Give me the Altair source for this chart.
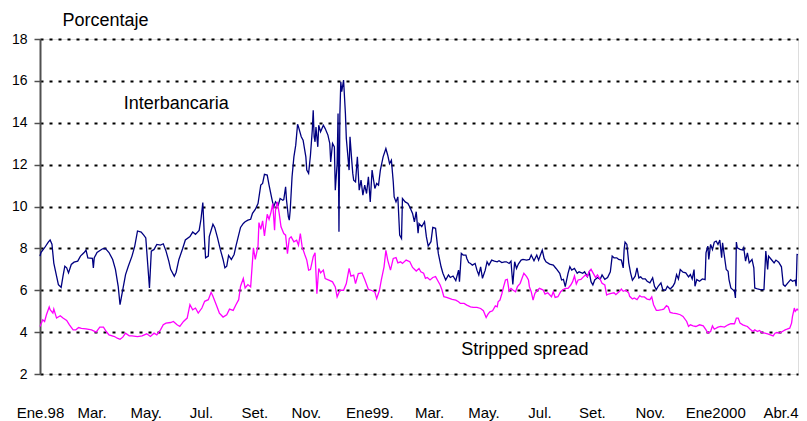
import altair as alt
import pandas as pd

# Days since 1998-01-01 and values (%)
inter_dias = [0, 1, 5, 9, 11, 13, 15, 18, 20, 23, 25, 27, 29, 31, 34, 37, 41, 44, 48, 50, 52, 57, 58, 59, 62, 68, 71, 75, 79, 82, 85, 87, 90, 93, 96, 100, 103, 106, 110, 113, 115, 117, 119, 121, 124, 127, 131, 134, 137, 140, 142, 146, 148, 151, 155, 158, 163, 166, 169, 173, 175, 177, 179, 180, 183, 184, 188, 190, 193, 196, 199, 201, 203, 205, 208, 211, 213, 215, 218, 221, 223, 226, 229, 231, 234, 237, 240, 242, 244, 247, 249, 252, 254, 256, 259, 261, 264, 265, 267, 268, 270, 271, 272, 274, 276, 278, 280, 281, 284, 286, 289, 290, 292, 294, 296, 297, 298, 299, 300, 302, 303, 305, 308, 310, 313, 315, 316, 318, 320, 321, 323, 324, 325, 326, 327, 328, 330, 332, 333, 336, 337, 339, 340, 341, 343, 345, 347, 349, 351, 353, 355, 357, 359, 361, 364, 366, 368, 370, 373, 376, 378, 380, 382, 384, 385, 387, 389, 391, 393, 394, 397, 400, 402, 405, 407, 409, 411, 412, 415, 418, 420, 422, 425, 427, 430, 431, 433, 436, 438, 441, 444, 446, 449, 452, 455, 456, 458, 460, 463, 464, 466, 468, 470, 473, 475, 477, 479, 481, 484, 486, 488, 491, 494, 497, 499, 502, 505, 507, 510, 512, 513, 514, 516, 518, 520, 523, 525, 529, 532, 534, 537, 540, 542, 544, 546, 548, 550, 554, 558, 561, 565, 567, 569, 571, 574, 576, 578, 581, 584, 586, 590, 592, 595, 597, 599, 601, 603, 606, 609, 611, 614, 617, 620, 622, 624, 627, 629, 632, 634, 635, 636, 638, 640, 642, 644, 645, 647, 649, 651, 653, 655, 658, 660, 663, 666, 668, 670, 672, 675, 677, 680, 682, 685, 688, 690, 692, 694, 696, 699, 702, 705, 707, 709, 711, 712, 714, 717, 720, 723, 724, 726, 727, 729, 731, 733, 735, 737, 739, 741, 742, 744, 746, 748, 749, 751, 753, 755, 756, 757, 758, 761, 764, 765, 767, 769, 771, 774, 776, 777, 780, 783, 787, 789, 791, 792, 795, 798, 800, 803, 806, 808, 810, 813, 816, 818, 821, 822, 823, 824]
inter_vals = [7.63, 7.8, 8.03, 8.3, 8.4, 8.2, 7.3, 6.67, 6.27, 6.14, 6.67, 7.15, 7.07, 6.83, 7.23, 7.34, 7.39, 7.63, 7.8, 7.92, 7.55, 7.52, 7.07, 7.55, 7.8, 7.98, 8.0, 7.8, 7.47, 7.0, 6.19, 5.31, 6.03, 6.75, 7.15, 7.63, 8.11, 8.83, 8.78, 8.62, 8.5, 7.3, 6.11, 7.87, 7.95, 8.19, 8.16, 8.22, 7.87, 7.39, 7.0, 6.67, 6.86, 7.47, 7.98, 8.4, 8.56, 8.78, 8.67, 8.86, 9.39, 10.19, 8.27, 7.55, 7.63, 8.56, 9.15, 8.99, 8.5, 7.95, 7.47, 7.07, 7.15, 7.66, 7.47, 7.71, 8.11, 8.47, 9.0, 9.19, 9.27, 9.35, 9.39, 9.67, 9.86, 10.14, 11.02, 11.1, 11.54, 11.5, 11.02, 10.38, 9.98, 10.22, 10.06, 10.38, 10.3, 10.33, 10.94, 10.3, 9.51, 9.35, 9.82, 11.42, 12.37, 12.93, 13.93, 13.8, 13.33, 13.17, 12.37, 11.74, 11.58, 12.45, 13.65, 14.6, 13.33, 13.09, 13.8, 12.85, 13.88, 13.57, 13.88, 13.72, 13.41, 13.01, 12.13, 13.01, 12.85, 10.78, 12.05, 14.44, 8.79, 14.44, 15.96, 15.48, 16.04, 14.44, 13.25, 11.74, 13.33, 12.13, 11.58, 11.26, 11.18, 12.37, 10.78, 11.26, 10.54, 11.02, 10.62, 11.42, 10.22, 11.74, 10.86, 11.1, 11.02, 11.74, 12.37, 12.77, 12.45, 12.05, 12.21, 11.18, 10.46, 10.22, 10.46, 8.63, 8.47, 10.38, 10.22, 10.14, 9.98, 9.67, 9.27, 9.75, 8.72, 9.19, 9.04, 9.27, 8.56, 8.11, 8.32, 9.0, 8.96, 8.56, 7.76, 7.12, 6.81, 6.49, 6.73, 6.61, 6.68, 6.46, 6.96, 6.41, 7.76, 7.68, 7.68, 7.52, 7.32, 7.28, 7.2, 7.28, 6.96, 6.73, 7.12, 6.57, 6.96, 7.36, 7.2, 7.44, 7.39, 7.36, 7.41, 7.32, 7.36, 7.36, 7.28, 7.39, 6.81, 6.28, 7.36, 7.04, 7.25, 7.44, 7.47, 7.44, 7.47, 7.68, 7.41, 7.68, 7.44, 7.68, 7.92, 7.52, 7.36, 7.25, 7.2, 7.04, 6.81, 6.49, 6.52, 6.17, 6.81, 7.12, 6.96, 7.04, 6.81, 6.88, 6.81, 6.88, 6.65, 6.88, 6.41, 6.25, 6.49, 6.61, 6.52, 6.73, 6.52, 6.61, 6.88, 7.63, 7.55, 7.55, 7.47, 7.44, 7.07, 7.95, 8.3, 8.19, 7.31, 6.83, 6.48, 6.54, 6.67, 7.07, 6.59, 6.64, 6.54, 6.54, 6.43, 6.35, 6.59, 6.19, 6.03, 6.19, 6.35, 6.03, 6.0, 6.19, 6.06, 6.19, 6.35, 6.75, 6.54, 6.99, 6.86, 6.83, 6.64, 6.75, 6.54, 6.99, 6.19, 6.51, 6.43, 6.54, 6.51, 7.79, 8.11, 7.47, 8.19, 7.95, 8.3, 8.35, 8.19, 8.4, 7.55, 8.27, 7.63, 6.99, 6.91, 6.51, 6.11, 6.03, 5.95, 5.63, 8.3, 8.03, 7.95, 7.92, 8.03, 7.39, 7.79, 7.31, 7.47, 7.07, 6.11, 6.06, 6.03, 6.03, 7.87, 6.99, 7.63, 7.47, 7.31, 7.44, 7.34, 7.12, 6.27, 6.19, 6.35, 6.51, 6.43, 6.48, 6.19, 7.71, 7.7]

spread_dias = [0, 3, 5, 7, 10, 11, 14, 15, 18, 22, 25, 29, 32, 36, 39, 42, 45, 50, 56, 61, 65, 69, 72, 75, 81, 84, 87, 90, 93, 97, 100, 106, 111, 116, 120, 124, 127, 131, 134, 137, 142, 145, 149, 152, 156, 160, 163, 166, 169, 172, 176, 179, 183, 186, 188, 192, 195, 199, 203, 206, 210, 213, 216, 218, 221, 223, 226, 229, 232, 234, 237, 238, 240, 242, 244, 247, 249, 251, 253, 255, 256, 258, 260, 262, 265, 267, 269, 271, 273, 276, 279, 281, 283, 285, 288, 290, 292, 294, 297, 299, 301, 303, 305, 308, 310, 314, 318, 321, 323, 326, 330, 333, 336, 338, 341, 343, 346, 350, 353, 357, 360, 364, 366, 369, 371, 374, 376, 378, 381, 384, 387, 389, 392, 394, 398, 402, 405, 409, 412, 414, 417, 419, 421, 424, 427, 430, 432, 435, 437, 439, 442, 445, 448, 452, 455, 457, 461, 464, 468, 471, 475, 479, 482, 485, 487, 489, 492, 495, 497, 498, 500, 502, 504, 506, 508, 510, 512, 514, 517, 519, 522, 524, 526, 529, 531, 532, 534, 536, 538, 541, 543, 547, 549, 552, 556, 558, 560, 563, 566, 568, 571, 574, 577, 579, 581, 583, 585, 588, 591, 593, 595, 597, 599, 601, 604, 606, 609, 611, 614, 616, 618, 621, 624, 626, 630, 632, 634, 637, 640, 641, 644, 646, 649, 652, 654, 657, 660, 663, 665, 667, 670, 672, 676, 678, 681, 683, 685, 688, 692, 696, 699, 703, 705, 707, 710, 713, 717, 721, 724, 726, 729, 731, 733, 737, 740, 744, 748, 751, 755, 757, 759, 761, 764, 767, 769, 772, 775, 777, 780, 782, 785, 788, 791, 794, 797, 799, 801, 804, 807, 810, 812, 815, 817, 818, 820, 821, 823, 824]
spread_vals = [4.27, 4.59, 4.51, 4.83, 5.2, 5.07, 4.91, 5.1, 4.67, 4.78, 4.67, 4.56, 4.35, 4.11, 4.11, 4.22, 4.18, 4.16, 4.11, 4.0, 4.24, 4.24, 4.03, 3.87, 3.79, 3.71, 3.66, 3.76, 3.95, 3.82, 3.82, 3.79, 3.82, 3.92, 3.79, 3.95, 3.87, 4.11, 4.35, 4.43, 4.46, 4.51, 4.35, 4.27, 4.51, 4.67, 5.31, 5.07, 5.15, 4.91, 5.15, 5.47, 5.55, 5.9, 5.71, 5.26, 4.91, 4.72, 4.83, 5.1, 5.04, 5.31, 5.55, 6.19, 6.56, 6.11, 6.27, 6.16, 8.03, 7.47, 8.11, 9.23, 8.91, 9.31, 8.59, 9.63, 9.39, 9.71, 10.14, 8.87, 9.82, 10.22, 9.67, 9.03, 8.71, 8.63, 7.75, 8.47, 8.55, 8.31, 8.39, 8.15, 8.71, 8.07, 7.68, 7.44, 6.96, 6.99, 7.6, 7.79, 5.84, 7.04, 6.83, 6.96, 6.56, 6.48, 6.4, 6.16, 5.68, 6.0, 6.0, 6.32, 7.04, 6.67, 6.72, 6.32, 6.8, 6.83, 6.51, 6.04, 6.0, 5.92, 5.6, 6.0, 6.48, 7.12, 7.91, 7.44, 6.96, 7.52, 7.56, 7.31, 7.36, 7.28, 7.44, 7.36, 7.09, 6.92, 7.04, 6.88, 6.81, 6.57, 6.61, 6.49, 6.61, 6.65, 6.49, 6.25, 6.01, 5.69, 5.66, 5.61, 5.56, 5.53, 5.45, 5.37, 5.37, 5.29, 5.21, 5.18, 5.18, 5.13, 5.02, 4.7, 4.86, 4.97, 5.02, 5.25, 5.21, 5.45, 5.53, 5.82, 6.17, 6.49, 6.52, 5.96, 6.09, 6.01, 5.93, 6.17, 6.33, 6.57, 6.81, 6.65, 6.49, 6.17, 5.93, 5.53, 5.85, 6.01, 6.09, 6.01, 5.82, 5.88, 5.69, 5.93, 5.66, 5.69, 5.93, 6.01, 6.09, 6.09, 6.25, 6.41, 6.68, 6.3, 6.49, 6.52, 6.65, 6.73, 6.65, 6.88, 7.0, 6.84, 6.61, 6.73, 6.52, 6.33, 6.25, 5.77, 5.82, 5.85, 5.88, 5.79, 5.95, 6.06, 5.95, 6.0, 5.87, 5.71, 5.58, 5.63, 5.55, 5.74, 5.68, 5.68, 5.58, 5.55, 5.68, 5.31, 5.04, 5.04, 5.07, 5.1, 5.26, 5.2, 4.94, 4.91, 4.88, 4.83, 4.75, 4.51, 4.27, 4.35, 4.3, 4.27, 4.35, 4.3, 4.11, 3.95, 4.03, 4.3, 4.14, 4.24, 4.27, 4.24, 4.35, 4.4, 4.4, 4.67, 4.67, 4.43, 4.35, 4.3, 4.27, 4.14, 4.03, 4.11, 4.03, 4.08, 3.98, 3.95, 3.92, 3.87, 3.82, 3.95, 3.98, 3.95, 4.03, 4.11, 4.14, 4.19, 4.43, 4.75, 5.15, 4.99, 5.1, 5.04]

label_dias = [0, 56, 115, 175, 233, 289, 358, 423, 482, 543, 600, 663, 734, 824]
label_text = ["Ene.98", "Mar.", "May.", "Jul.", "Set.", "Nov.", "Ene99.", "Mar.", "May.",
              "Jul.", "Set.", "Nov.", "Ene2000", "Abr.4"]

series_names = ["Interbancaria", "Stripped spread"]
series_colors = ["#000080", "#FF00FF"]

ann_text = ["Interbancaria", "Stripped spread"]
ann_dia = [91, 458]
ann_val = [14.66, 2.91]

FONT = "Liberation Sans"

df = pd.concat([
    pd.DataFrame({"dia": inter_dias, "valor": inter_vals, "serie": series_names[0]}),
    pd.DataFrame({"dia": spread_dias, "valor": spread_vals, "serie": series_names[1]}),
])
ann = pd.DataFrame({"dia": ann_dia, "valor": ann_val, "texto": ann_text})

days_js = "[" + ",".join(str(d) for d in label_dias) + "]"
text_js = "[" + ",".join("'" + t + "'" for t in label_text) + "]"

x_enc = alt.X(
    "dia:Q",
    scale=alt.Scale(domain=[0, 824], nice=False, zero=False),
    axis=alt.Axis(
        values=label_dias,
        labelExpr=f"{text_js}[indexof({days_js}, datum.value)]",
        title=None, grid=False, domain=False, ticks=False,
        labelFont=FONT, labelFontSize=15, labelColor="black",
        labelPadding=43, labelBaseline="alphabetic",
        labelAlign={"condition": {"test": "datum.value >= 824", "value": "right"}, "value": "center"},
        labelOverlap=False, labelFlush=False, labelBound=False,
    ),
)
y_enc = alt.Y(
    "valor:Q",
    scale=alt.Scale(domain=[2, 18], nice=False, zero=False),
    axis=alt.Axis(
        values=[2, 4, 6, 8, 10, 12, 14, 16, 18],
        title="Porcentaje", titleAngle=0, titleX=22, titleY=-14,
        titleAlign="left", titleBaseline="alphabetic",
        titleFont=FONT, titleFontSize=18, titleFontWeight="normal", titleColor="black",
        labelFont=FONT, labelFontSize=14, labelColor="black", labelPadding=7,
        tickSize=6, tickColor="#505050", tickWidth=1.5,
        domainColor="#505050", domainWidth=2,
        grid=True, gridColor="black", gridDash=[3, 6], gridWidth=2,
    ),
)

lines = alt.Chart(df).mark_line(strokeWidth=1.3, interpolate="linear").encode(
    x=x_enc,
    y=y_enc,
    color=alt.Color("serie:N", scale=alt.Scale(domain=series_names, range=series_colors), legend=None),
    detail="serie:N",
)

labels = alt.Chart(ann).mark_text(
    font=FONT, fontSize=18, color="black", align="left", baseline="alphabetic"
).encode(x="dia:Q", y="valor:Q", text="texto:N")

chart = alt.layer(lines, labels).properties(
    width=758,
    height=335,
    autosize=alt.AutoSizeParams(type="none"),
    padding={"left": 32, "top": 31, "right": 1, "bottom": 50},
).configure_view(stroke="#a0a0a0", strokeWidth=1).configure(background="white")

chart.save("out.html", embed_options={"renderer": "svg", "actions": False})
